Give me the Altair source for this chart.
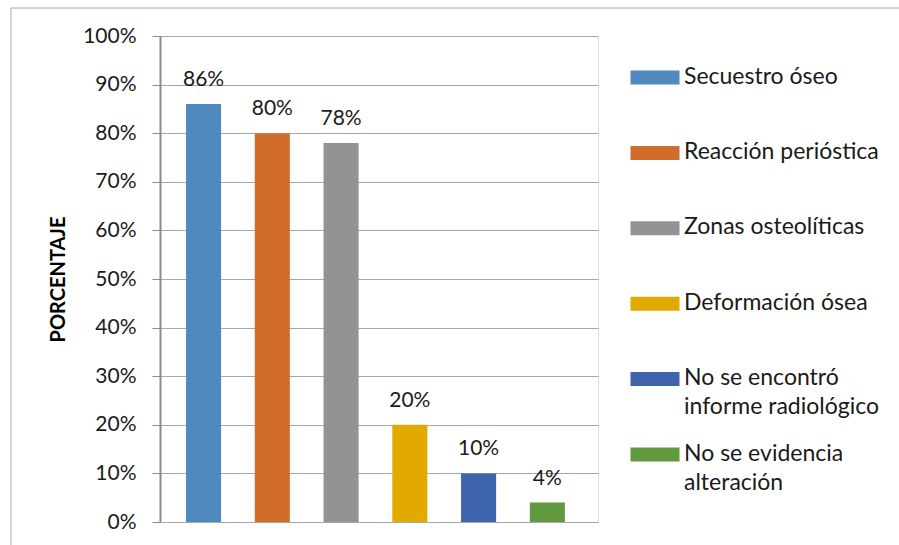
import altair as alt
import pandas as pd

categorias = [
    "Secuestro óseo",
    "Reacción perióstica",
    "Zonas osteolíticas",
    "Deformación ósea",
    "No se encontró\ninforme radiológico",
    "No se evidencia\nalteración",
]
porcentajes = [0.86, 0.80, 0.78, 0.20, 0.10, 0.04]
colores = ["#4f89be", "#d26c2b", "#939393", "#e2a900", "#3d64ad", "#62993e"]
ticks_y = [0, 0.1, 0.2, 0.3, 0.4, 0.5, 0.6, 0.7, 0.8, 0.9, 1.0]

df = pd.DataFrame({"cat": categorias, "pct": porcentajes})

FONT = "Lato"
TXT = "#1a1a1a"

x_enc = alt.X(
    "cat:N",
    sort=categorias,
    scale=alt.Scale(paddingInner=0.49, paddingOuter=0.43, align=0.44),
    axis=None,
)
y_enc = alt.Y(
    "pct:Q",
    scale=alt.Scale(domain=[0, 1]),
    axis=alt.Axis(
        values=ticks_y,
        format=".0%",
        title="PORCENTAJE",
        titleFont=FONT,
        titleFontSize=20,
        titleFontWeight="bold",
        titleColor="#000000",
        titleX=-102,
        titleY=243,
        titleAngle=270,
        titleAlign="center",
        titleBaseline="middle",
        labelFont=FONT,
        labelFontSize=21,
        labelColor=TXT,
        labelPadding=16,
        tickSize=8,
        tickColor="#8c8c8c",
        domainColor="#8c8c8c",
        domainWidth=2,
        gridColor="#a6a6a6",
        gridWidth=1,
    ),
)

frame = alt.Chart(pd.DataFrame({"a": [0]})).mark_rect(
    fill="transparent", stroke="#a8a8a8", strokeWidth=1
).encode(
    x=alt.value(-149), x2=alt.value(800), y=alt.value(-28), y2=alt.value(560)
)

bars = alt.Chart(df).mark_bar().encode(
    x=x_enc,
    y=y_enc,
    color=alt.Color(
        "cat:N",
        scale=alt.Scale(domain=categorias, range=colores),
        sort=categorias,
        legend=alt.Legend(
            orient="none",
            legendX=460,
            legendY=18,
            title=None,
            padding=0,
            symbolType="M-1,5L48,5L48,19L-1,19Z",
            symbolSize=4,
            symbolStrokeWidth=0,
            symbolOpacity=1,
            labelFont=FONT,
            labelFontSize=23,
            labelColor=TXT,
            labelOffset=41,
            labelLimit=400,
            labelBaseline="top",
            labelExpr="split(datum.label, '\\n')",
            rowPadding=11.4,
            gridAlign="all",
        ),
    ),
)

labels = alt.Chart(df).mark_text(
    dy=-18, baseline="alphabetic", font=FONT, fontSize=21, color=TXT
).encode(
    x=alt.X("cat:N", sort=categorias),
    y=alt.Y("pct:Q"),
    text=alt.Text("pct:Q", format=".0%"),
)

chart = (
    alt.layer(frame, bars, labels)
    .properties(
        width=438,
        height=486,
        autosize=alt.AutoSizeParams(type="none"),
        padding={"left": 160, "top": 36, "right": 301, "bottom": 23},
        background="white",
    )
    .configure_view(stroke=None)
    .configure(style={"guide-label": {"lineHeight": 29}})
)

chart.save("out.html", embed_options={"renderer": "svg", "actions": False})
